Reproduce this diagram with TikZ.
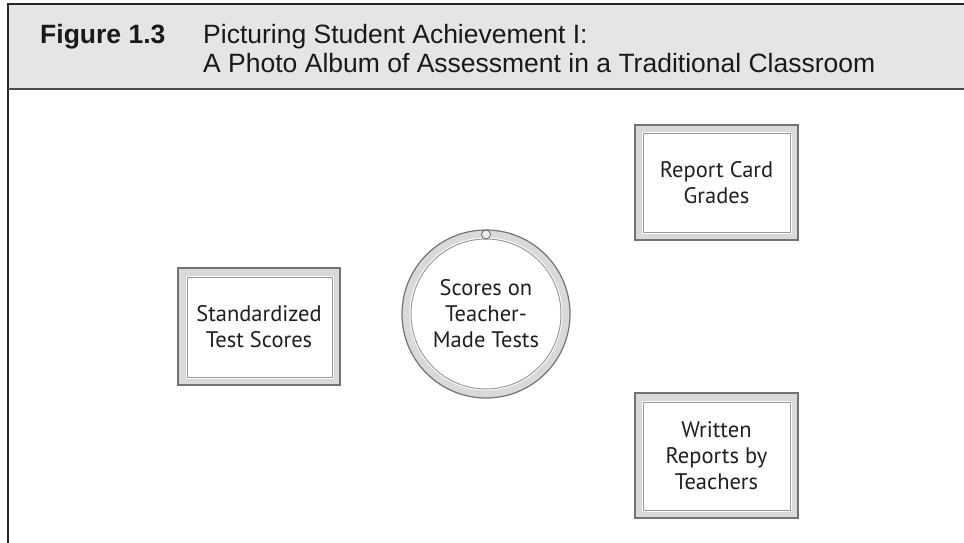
\documentclass[tikz,border=0pt]{standalone}
\usepackage{fontspec}
\usepackage{tikz}
\usetikzlibrary{calc}
\newfontfamily\headfont{Liberation Sans}
\newfontfamily\boxfont{PT Sans}
\tikzset{
  frameout/.style={fill=gray!30, draw=gray!90!black, line width=1.2pt},
  framegap/.style={draw=white, line width=3pt},
  framein/.style={fill=white, draw=gray!80, line width=1pt},
  boxtext/.style={align=center, inner sep=0pt, text=black!88,
    font=\boxfont\fontsize{22.5}{26}\selectfont},
  headtext/.style={anchor=base west, inner sep=0pt, text=black!90,
    font=\headfont\fontsize{26.5}{30}\selectfont}
}
\begin{document}
\begin{tikzpicture}[x=1pt,y=-1pt]
\def\W{964};
\def\H{543};
\def\rout{84}; %outer ring%
\def\rin{75}; %inner ring%
\useasboundingbox (0,0) rectangle (\W,\H);
\coordinate (O) at (486,314);
\coordinate (A1) at (178,268);
\coordinate (A2) at (340,385);
\coordinate (B1) at (635,125);
\coordinate (B2) at (798,240);
\coordinate (C1) at (635,393);
\coordinate (C2) at (798,518);

% header band
\fill[gray!20] (8,4) rectangle (\W,89);
\draw[black!85, line width=1.5pt] (8,\H) -- (8,4) -- (\W,4);
\draw[gray!60!black, line width=2pt] (8,89) -- (\W,89);
\node[headtext] (fig) at (40,44) {\bfseries Figure 1.3};
\node[headtext] (titleA) at (203,44) {Picturing Student Achievement I:};
\node[headtext] (titleB) at (203,73) {A Photo Album of Assessment in a Traditional Classroom};

% standardized test scores
\draw[frameout] (A1) rectangle (A2);
\draw[framegap] (187,277) rectangle (332,377);
\draw[framein] (187,277) rectangle (332,377);
\node[boxtext] (std) at ($(A1)!0.5!(A2)$) {Standardized\\Test Scores};

% report card grades
\draw[frameout] (B1) rectangle (B2);
\draw[framegap] (643,133) rectangle (790,232);
\draw[framein] (643,133) rectangle (790,232);
\node[boxtext] (rcg) at ($(B1)!0.5!(B2)$) {Report Card\\Grades};

% written reports
\draw[frameout] (C1) rectangle (C2);
\draw[framegap] (643,402) rectangle (790,510);
\draw[framein] (643,402) rectangle (790,510);
\node[boxtext] (wrt) at ($(C1)!0.5!(C2)$) {Written\\Reports by\\Teachers};

% teacher-made tests (round frame)
\draw[frameout] (O) circle[radius=\rout pt];
\draw[framegap] (O) circle[radius=\rin pt];
\draw[framein] (O) circle[radius=\rin pt];
\draw[fill=gray!15, draw=gray!80!black, line width=0.8pt] (486,234.5) circle[radius=4.5pt]; %knob%
\node[boxtext] (tmt) at (O) {Scores on\\Teacher-\\Made Tests};

\end{tikzpicture}
\end{document}
